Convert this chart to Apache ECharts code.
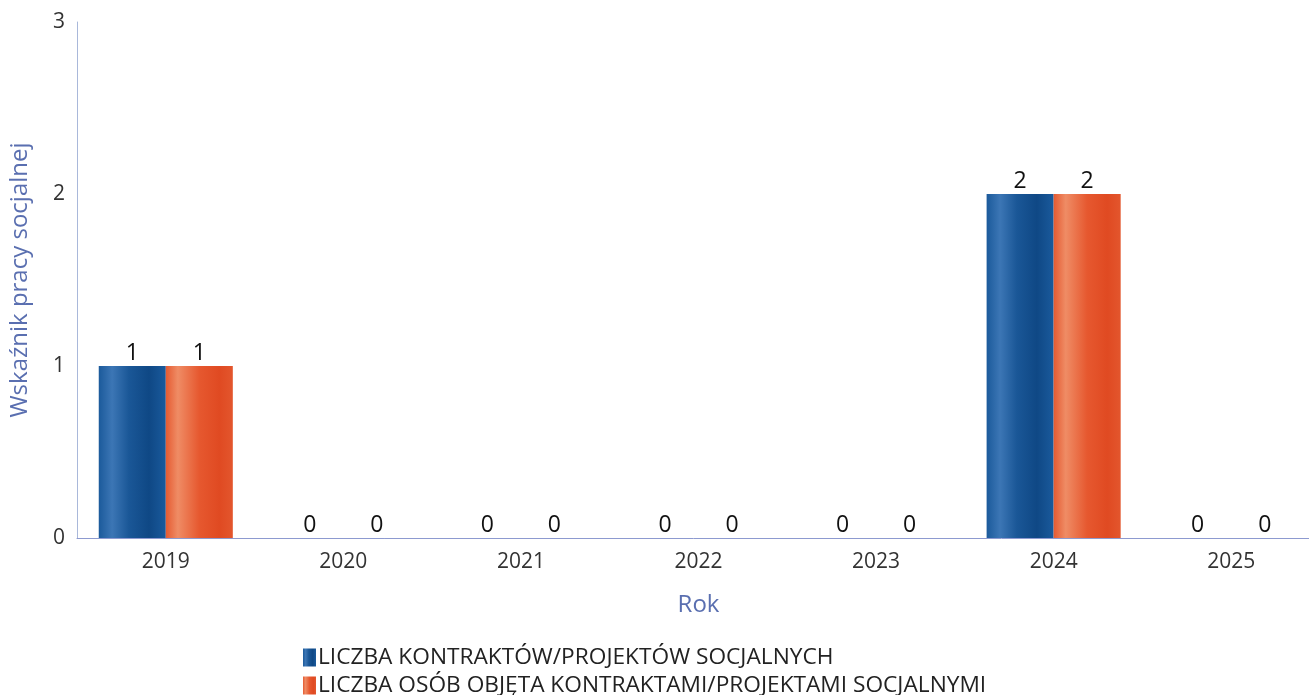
<!DOCTYPE html>
<html>
<head>
<meta charset="utf-8">
<script src="https://cdn.jsdelivr.net/npm/echarts@6/dist/echarts.min.js"></script>
<style>
  html,body{margin:0;padding:0;background:#fff;}
  #chart{width:1309px;height:695px;}
</style>
</head>
<body>
<div id="chart"></div>
<script>
  // dane
  var years = ['2019','2020','2021','2022','2023','2024','2025'];
  var kontrakty = [1,0,0,0,0,2,0];
  var osoby = [1,0,0,0,0,2,0];
  var seriesNames = ['LICZBA KONTRAKTÓW/PROJEKTÓW SOCJALNYCH','LICZBA OSÓB OBJĘTA KONTRAKTAMI/PROJEKTAMI SOCJALNYMI'];

  var font = '"Open Sans", "Noto Sans", sans-serif';

  function grad(stops){
    return new echarts.graphic.LinearGradient(0,0,1,0,stops);
  }
  var blueGrad = grad([
    {offset:0,color:'#1b5a9b'},
    {offset:0.2,color:'#3c76b5'},
    {offset:0.45,color:'#1a5797'},
    {offset:0.75,color:'#0f4885'},
    {offset:1,color:'#1a5a9c'}
  ]);
  var redGrad = grad([
    {offset:0,color:'#e55a31'},
    {offset:0.18,color:'#ef8c65'},
    {offset:0.5,color:'#e6582f'},
    {offset:0.8,color:'#e04a22'},
    {offset:1,color:'#e3562d'}
  ]);

  var chart = echarts.init(document.getElementById('chart'));
  var option = {
    animation:false,
    textStyle:{fontFamily:font},
    grid:{left:77,width:1243,top:22,bottom:157,outerBoundsMode:'none'},
    legend:{
      orient:'vertical',
      left:298,
      top:641,
      height:60,
      padding:5,
      itemWidth:13,
      itemHeight:18,
      itemGap:5,
      icon:'rect',
      textStyle:{fontSize:22.7,color:'#222',fontFamily:font,padding:[0,0,0,-3]},
      data:seriesNames
    },
    xAxis:{
      type:'category',
      data:years,
      name:'Rok',
      nameLocation:'middle',
      nameGap:55,
      nameTextStyle:{fontSize:24,color:'#5a6fb0'},
      axisLine:{lineStyle:{color:'#8d9ad0',width:1}},
      axisTick:{show:false},
      axisLabel:{fontSize:21,color:'#333',margin:14}
    },
    yAxis:{
      type:'value',
      min:0,max:3,interval:1,
      name:'Wskaźnik pracy socjalnej',
      nameLocation:'middle',
      nameGap:45,
      nameTextStyle:{fontSize:24,color:'#5a6fb0'},
      axisLine:{show:true,lineStyle:{color:'#a9b8da',width:1}},
      axisTick:{show:false},
      splitLine:{show:false},
      axisLabel:{fontSize:21,color:'#333',margin:12}
    },
    series:[
      {
        name:seriesNames[0],
        type:'bar',
        data:kontrakty,
        barGap:'0%',
        barCategoryGap:'24.5%',
        itemStyle:{color:blueGrad},
        label:{show:true,position:'top',distance:1,fontSize:23,color:'#111'}
      },
      {
        name:seriesNames[1],
        type:'bar',
        data:osoby,
        barGap:'0%',
        barCategoryGap:'24.5%',
        itemStyle:{color:redGrad},
        label:{show:true,position:'top',distance:1,fontSize:23,color:'#111'}
      }
    ]
  };
  chart.setOption(option);
</script>
</body>
</html>
